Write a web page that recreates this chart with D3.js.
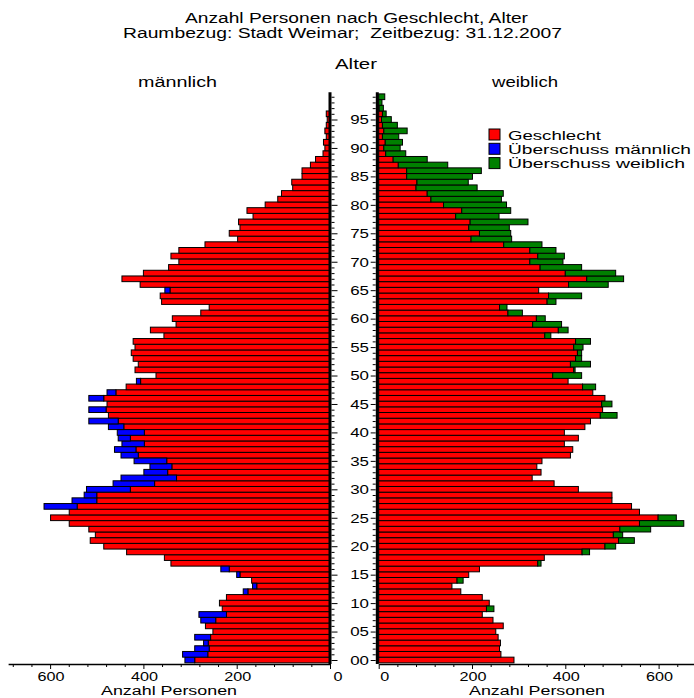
<!DOCTYPE html>
<html><head><meta charset="utf-8">
<script src="https://cdn.jsdelivr.net/npm/d3@7"></script>
<style>
html,body{margin:0;padding:0;background:#fff;}
svg text{font-family:"Liberation Sans",Arial,sans-serif;fill:#000;white-space:pre;}
</style></head>
<body>
<svg id="chart" width="694" height="698"></svg>
<script>
// ---- data ----
const ages = d3.range(0, 100);
const male = [
 311,316,290,271,290,251,267,277,281,231,
 237,222,186,166,168,200,234,341,355,436,
 485,514,503,517,559,599,559,613,553,527,
 522,465,448,399,386,420,448,462,446,454,
 456,475,517,475,517,478,517,478,437,415,
 373,418,411,422,426,418,422,356,385,330,
 338,277,259,361,364,354,407,446,400,346,
 324,341,324,268,198,216,193,196,165,178,
 139,112,104,80,82,60,60,42,31,15,
 11,14,8,11,8,6,8,1,0,0];
const female = [
 290,262,259,261,256,251,267,245,222,247,
 237,222,176,157,181,193,216,348,355,452,
 508,548,523,583,654,638,559,542,500,500,
 428,376,329,348,339,350,411,416,398,428,
 398,442,454,511,480,500,485,459,465,406,
 435,421,454,435,435,438,454,369,406,392,
 357,308,275,380,435,343,492,525,508,435,
 395,398,380,350,285,283,280,320,258,283,
 274,263,267,211,192,201,220,148,104,58,
 46,51,43,61,40,27,16,10,7,13];
const xTickLabels = [0, 200, 400, 600];
const ageTickLabels = ["00","05","10","15","20","25","30","35","40","45","50","55","60","65","70","75","80","85","90","95"];
const titleLines = ["Anzahl Personen nach Geschlecht, Alter", "Raumbezug: Stadt Weimar;  Zeitbezug: 31.12.2007"];
const legendLabels = ["Geschlecht", "Überschuss männlich", "Überschuss weiblich"];
const colors = {red: "#ff0000", blue: "#0000ff", green: "#008000"};

// ---- scales ----
const svg = d3.select("#chart");
const k = 0.4665;
const xL = d3.scaleLinear().domain([0, 690]).range([330, 330 - 690 * k]);
const xR = d3.scaleLinear().domain([0, 690]).range([378.7, 378.7 + 690 * k]);
const y = d3.scaleLinear().domain([0, 95]).range([660, 119.5]);

function label(x, yy, s, size, anchor, width, sx) {
  const g = svg.append("g").attr("transform", `translate(${x},${yy})` + (sx ? ` scale(${sx},1)` : ""));
  const t = g.append("text").text(s).attr("font-size", size).attr("text-anchor", anchor || "start");
  if (width) t.attr("textLength", width).attr("lengthAdjust", "spacingAndGlyphs");
  return t;
}

// ---- titles ----
label(185, 23, titleLines[0], 14, "start", 343);
label(123, 37.5, titleLines[1], 14, "start", 439);
label(335, 69, "Alter", 14, "start", 42);
label(138, 87, "männlich", 14, "start", 79);
label(492, 87, "weiblich", 14, "start", 66);

// ---- bars ----
const rows = ages.map((a, i) => ({age: a, m: male[i], f: female[i], lo: Math.min(male[i], female[i])}));
const bh = a => y(a - 0.5) - y(a + 0.5);
const gb = svg.append("g").attr("stroke", "#000").attr("stroke-width", 1);
gb.selectAll("rect.lr").data(rows.filter(d => d.lo > 0)).join("rect")
  .attr("x", d => xL(d.lo)).attr("width", d => xL(0) - xL(d.lo))
  .attr("y", d => y(d.age + 0.5)).attr("height", d => bh(d.age)).attr("fill", colors.red);
gb.selectAll("rect.lb").data(rows.filter(d => d.m > d.f)).join("rect")
  .attr("x", d => xL(d.m)).attr("width", d => xL(d.lo) - xL(d.m))
  .attr("y", d => y(d.age + 0.5)).attr("height", d => bh(d.age)).attr("fill", colors.blue);
gb.selectAll("rect.rr").data(rows.filter(d => d.lo > 0)).join("rect")
  .attr("x", xR(0)).attr("width", d => xR(d.lo) - xR(0))
  .attr("y", d => y(d.age + 0.5)).attr("height", d => bh(d.age)).attr("fill", colors.red);
gb.selectAll("rect.rg").data(rows.filter(d => d.f > d.m)).join("rect")
  .attr("x", d => xR(d.lo)).attr("width", d => xR(d.f) - xR(d.lo))
  .attr("y", d => y(d.age + 0.5)).attr("height", d => bh(d.age)).attr("fill", colors.green);

// ---- vertical axes ----
const yTop = y(99.8), yBot = y(-0.7);
const axL = d3.axisRight(y).tickValues(ages).tickSize(3).tickFormat("").tickSizeOuter(0);
const gL = svg.append("g").attr("transform", "translate(331.5,0)").call(axL);
gL.select(".domain").remove();
gL.selectAll(".tick line").attr("x2", d => d % 5 === 0 ? 6 : 3).attr("stroke", "#000");
svg.append("line").attr("x1", 330).attr("x2", 330).attr("y1", yTop).attr("y2", yBot).attr("stroke", "#000").attr("stroke-width", 3);

const axR = d3.axisLeft(y).tickValues(ages).tickSize(3).tickFormat("").tickSizeOuter(0);
const gR = svg.append("g").attr("transform", "translate(375.7,0)").call(axR);
gR.select(".domain").remove();
gR.selectAll(".tick line").attr("x2", d => d % 5 === 0 ? -5 : -3).attr("stroke", "#000");
svg.append("line").attr("x1", 377.3).attr("x2", 377.3).attr("y1", yTop).attr("y2", yBot).attr("stroke", "#000").attr("stroke-width", 3);

ageTickLabels.forEach((s, i) => {
  label(369, y(i * 5) + 4.8, s, 13, "end", null, 1.3);
});

// ---- horizontal axes ----
const xTicks = d3.range(0, 681, 40);
function hAxis(scale) {
  const ax = d3.axisBottom(scale).tickValues(xTicks).tickSize(3).tickFormat("").tickSizeOuter(0);
  const g = svg.append("g").attr("transform", "translate(0,664)").call(ax);
  g.select(".domain").attr("stroke", "#000").attr("stroke-width", 1.5);
  g.selectAll(".tick line").attr("y2", d => d % 200 === 0 ? 5 : 3).attr("stroke", "#000");
}
hAxis(xL);
hAxis(xR);
xTickLabels.forEach(v => {
  label(xL(v) + (v === 0 ? 8 : 1), 680.5, String(v), 12, "middle", null, 1.35);
  label(xR(v) + (v === 0 ? 6 : 1), 680.5, String(v), 12, "middle", null, 1.35);
});
label(169, 694.5, "Anzahl Personen", 12.5, "middle", 136);
label(537, 694.5, "Anzahl Personen", 12.5, "middle", 136);

// ---- legend ----
const legColors = [colors.red, colors.blue, colors.green];
legendLabels.forEach((s, i) => {
  svg.append("rect").attr("x", 489).attr("y", 129 + i * 14.3).attr("width", 11).attr("height", 11)
    .attr("fill", legColors[i]).attr("stroke", "#000").attr("stroke-width", 1);
  label(508, 139.5 + i * 14.3, s, 12.5, "start", [93, 183, 177][i]);
});
</script>
</body></html>
